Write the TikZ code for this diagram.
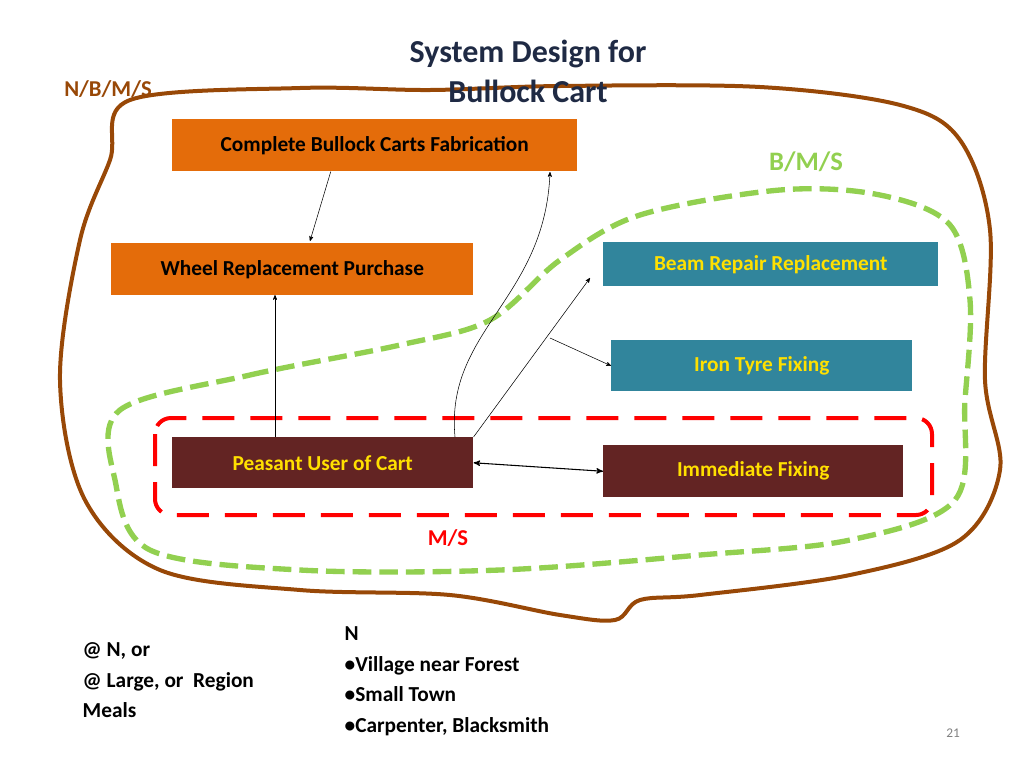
\documentclass[tikz,border=0pt]{standalone}
\usepackage{fontspec}
\setmainfont{Carlito}
\usetikzlibrary{arrows}
\definecolor{orng}{HTML}{E46C0A}
\definecolor{teal2}{HTML}{31859C}
\definecolor{maroon}{HTML}{632423}
\definecolor{brwn}{HTML}{984807}
\definecolor{grn}{HTML}{92D050}
\definecolor{navy}{HTML}{1F2A44}
\definecolor{ylw}{HTML}{FFE000}
\tikzset{
  box/.style={anchor=north west, inner sep=0pt, font=\bfseries\fontsize{16}{18}\selectfont},
  arr/.style={->, >=stealth', thin},
}
\begin{document}
\begin{tikzpicture}[x=0.75pt,y=-0.75pt]
\useasboundingbox (0,0) rectangle (1024,768);
% outer zones
\draw[brwn, line width=3pt] plot[smooth cycle, tension=0.55] coordinates {(130,100) (300,88) (430,90) (560,86) (760,87) (900,105) (960,140) (990,230) (985,380) (1000,470) (960,540) (850,575) (700,595) (640,600) (615,620) (560,615) (450,595) (300,590) (160,570) (85,500) (60,380) (80,240) (110,160)};
\draw[grn, line width=4pt, dash pattern=on 14pt off 6pt] plot[smooth cycle, tension=0.55] coordinates {(120,410) (250,375) (400,345) (490,320) (560,260) (640,215) (780,190) (880,195) (950,225) (970,300) (965,400) (955,500) (850,540) (700,555) (500,570) (300,570) (150,550) (115,480)};
\draw[red, line width=3pt, dash pattern=on 24pt off 12pt, rounded corners=12pt] (155,418) rectangle (932,515);
% boxes
\node[box, fill=orng, minimum width=405*0.75pt, minimum height=52*0.75pt, text=black] (fab) at (172,119) {Complete Bullock Carts Fabrication};
\node[box, fill=orng, minimum width=362*0.75pt, minimum height=52*0.75pt, text=black] (wheel) at (111,243) {Wheel Replacement Purchase};
\node[box, fill=teal2, minimum width=335*0.75pt, minimum height=44*0.75pt, text=ylw] (beam) at (603,242) {Beam Repair Replacement};
\node[box, fill=teal2, minimum width=301*0.75pt, minimum height=51*0.75pt, text=ylw] (tyre) at (611,340) {Iron Tyre Fixing};
\node[box, fill=maroon, minimum width=301*0.75pt, minimum height=51*0.75pt, text=ylw] (user) at (172,437) {Peasant User of Cart};
\node[box, fill=maroon, minimum width=300*0.75pt, minimum height=52*0.75pt, text=ylw] (fix) at (603,445) {Immediate Fixing};
\coordinate (tail) at (550,338);
% connectors
\draw[arr] (fab.south) ++(-44,0) -- (310,241);
\draw[arr] (275,437) -- (275,295);
\draw[arr] (455,437) .. controls (445,330) and (545,300) .. (550,172);
\draw[arr] (user.north east) -- (590,278);
\draw[arr] (tail) -- (tyre.west);
\draw[<->, >=stealth', thick] (user.east) -- (fix.west);
% labels
\node[font=\bfseries\fontsize{24}{30}\selectfont, text=navy, align=center] (title) at (528,71) {System Design for\\Bullock Cart};
\node[font=\bfseries\fontsize{17}{20}\selectfont, text=brwn] (nbms) at (108,89) {N/B/M/S};
\node[font=\bfseries\fontsize{20}{24}\selectfont, text=grn] (bms) at (806,162) {B/M/S};
\node[font=\bfseries\fontsize{17}{20}\selectfont, text=red] (ms) at (448,538) {M/S};
\node[anchor=north west, align=left, font=\bfseries\fontsize{16}{23}\selectfont] (reg) at (78,638) {@ N, or\\@ Large, or\ \ Region\\Meals};
\node[anchor=north west, align=left, font=\bfseries\fontsize{16}{23}\selectfont] (loc) at (340,622) {N\\•Village near Forest\\•Small Town\\•Carpenter, Blacksmith};
\node[text=gray, font=\fontsize{10}{12}\selectfont] (pg) at (953,733) {21};
\end{tikzpicture}
\end{document}
